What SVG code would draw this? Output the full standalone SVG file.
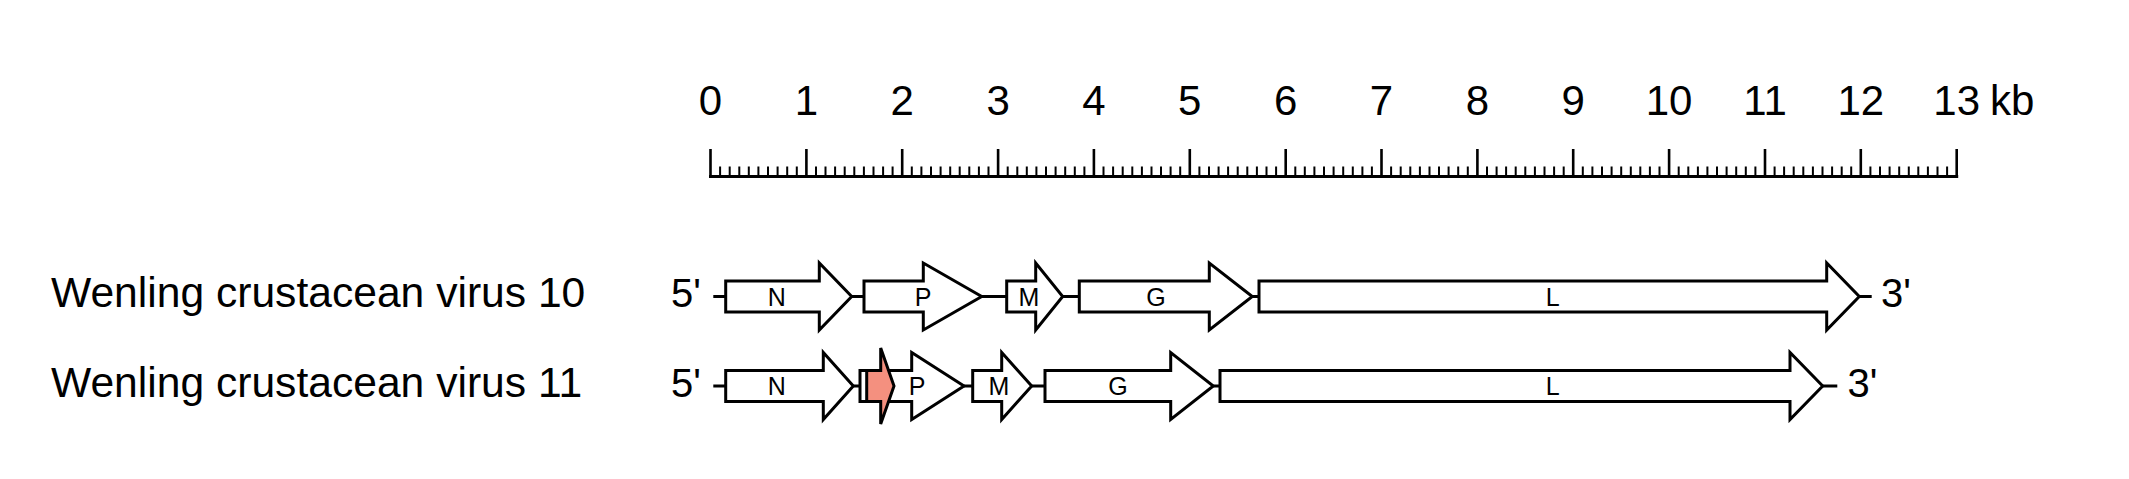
<svg xmlns="http://www.w3.org/2000/svg" width="2129" height="479" viewBox="0 0 2129 479">
<style>
.t{font-family:"Liberation Sans",Arial,sans-serif;fill:#000}
.tick{font-size:42px;text-anchor:middle}
.name{font-size:42.6px}
.end{font-size:40px}
.gl{font-size:25px;text-anchor:middle}
.gene{fill:#fff;stroke:#000;stroke-width:3;stroke-linejoin:miter}
.orf{fill:#F4907F;stroke:#000;stroke-width:3}
.con{stroke:#000;stroke-width:3;fill:none}
.ax{stroke:#000;fill:none}
</style>
<rect width="2129" height="479" fill="#fff"/>
<g id="ruler">
<g class="t tick">
<text x="710.5" y="115">0</text>
<text x="806.4" y="115">1</text>
<text x="902.2" y="115">2</text>
<text x="998.1" y="115">3</text>
<text x="1093.9" y="115">4</text>
<text x="1189.8" y="115">5</text>
<text x="1285.7" y="115">6</text>
<text x="1381.5" y="115">7</text>
<text x="1477.4" y="115">8</text>
<text x="1573.2" y="115">9</text>
<text x="1669.1" y="115">10</text>
<text x="1765" y="115">11</text>
<text x="1860.8" y="115">12</text>
<text x="1956.7" y="115">13</text>
</g>
<text class="t" x="1990" y="115" font-size="42">kb</text>
<path class="ax" stroke-width="3" d="M709 176.5H1958.2"/>
<path class="ax" stroke-width="2.6" d="M710.5 149v28M806.4 149v28M902.2 149v28M998.1 149v28M1093.9 149v28M1189.8 149v28M1285.7 149v28M1381.5 149v28M1477.4 149v28M1573.2 149v28M1669.1 149v28M1765 149v28M1860.8 149v28M1956.7 149v28"/>
<path class="ax" stroke-width="2" d="M720.1 166.5v10M729.7 166.5v10M739.3 166.5v10M748.8 166.5v10M758.4 166.5v10M768 166.5v10M777.6 166.5v10M787.2 166.5v10M796.8 166.5v10M816 166.5v10M825.5 166.5v10M835.1 166.5v10M844.7 166.5v10M854.3 166.5v10M863.9 166.5v10M873.5 166.5v10M883.1 166.5v10M892.6 166.5v10M911.8 166.5v10M921.4 166.5v10M931 166.5v10M940.6 166.5v10M950.2 166.5v10M959.7 166.5v10M969.3 166.5v10M978.9 166.5v10M988.5 166.5v10M1007.7 166.5v10M1017.3 166.5v10M1026.8 166.5v10M1036.4 166.5v10M1046 166.5v10M1055.6 166.5v10M1065.2 166.5v10M1074.8 166.5v10M1084.4 166.5v10M1103.5 166.5v10M1113.1 166.5v10M1122.7 166.5v10M1132.3 166.5v10M1141.9 166.5v10M1151.5 166.5v10M1161 166.5v10M1170.6 166.5v10M1180.2 166.5v10M1199.4 166.5v10M1209 166.5v10M1218.6 166.5v10M1228.1 166.5v10M1237.7 166.5v10M1247.3 166.5v10M1256.9 166.5v10M1266.5 166.5v10M1276.1 166.5v10M1295.3 166.5v10M1304.8 166.5v10M1314.4 166.5v10M1324 166.5v10M1333.6 166.5v10M1343.2 166.5v10M1352.8 166.5v10M1362.4 166.5v10M1371.9 166.5v10M1391.1 166.5v10M1400.7 166.5v10M1410.3 166.5v10M1419.9 166.5v10M1429.5 166.5v10M1439 166.5v10M1448.6 166.5v10M1458.2 166.5v10M1467.8 166.5v10M1487 166.5v10M1496.6 166.5v10M1506.1 166.5v10M1515.7 166.5v10M1525.3 166.5v10M1534.9 166.5v10M1544.5 166.5v10M1554.1 166.5v10M1563.7 166.5v10M1582.8 166.5v10M1592.4 166.5v10M1602 166.5v10M1611.6 166.5v10M1621.2 166.5v10M1630.8 166.5v10M1640.3 166.5v10M1649.9 166.5v10M1659.5 166.5v10M1678.7 166.5v10M1688.3 166.5v10M1697.9 166.5v10M1707.4 166.5v10M1717 166.5v10M1726.6 166.5v10M1736.2 166.5v10M1745.8 166.5v10M1755.4 166.5v10M1774.6 166.5v10M1784.1 166.5v10M1793.7 166.5v10M1803.3 166.5v10M1812.9 166.5v10M1822.5 166.5v10M1832.1 166.5v10M1841.7 166.5v10M1851.2 166.5v10M1870.4 166.5v10M1880 166.5v10M1889.6 166.5v10M1899.2 166.5v10M1908.8 166.5v10M1918.3 166.5v10M1927.9 166.5v10M1937.5 166.5v10M1947.1 166.5v10"/>
</g>
<g id="labels">
<text class="t name" x="51" y="306.7">Wenling crustacean virus 10</text>
<text class="t name" x="51" y="397">Wenling crustacean virus 11</text>
<text class="t end" x="671" y="306.7">5'</text>
<text class="t end" x="1881" y="306.7">3'</text>
<text class="t end" x="671" y="396.5">5'</text>
<text class="t end" x="1847.5" y="396.5">3'</text>
</g>
<g id="connectors">
<path class="con" d="M713.3 296.5H725.7M851.7 296.5H864M981.7 296.5H1006.7M1062.7 296.5H1079.3M1252.3 296.5H1259M1859.3 296.5H1871.7"/>
<path class="con" d="M713.3 386H725.7M853.3 386H860M964 386H972.7M1031.7 386H1045M1213.3 386H1220M1822.7 386H1837.3"/>
</g>
<g id="wcv10">
<g id="wcv10-N"><path class="gene" d="M725.7,281H819.3V263L851.7,296.5L819.3,330V312H725.7Z"/><text class="t gl" x="776.7" y="305.5">N</text></g>
<g id="wcv10-P"><path class="gene" d="M864,281H923.3V263L981.7,296.5L923.3,330V312H864Z"/><text class="t gl" x="923" y="305.5">P</text></g>
<g id="wcv10-M"><path class="gene" d="M1006.7,281H1035.7V263L1062.7,296.5L1035.7,330V312H1006.7Z"/><text class="t gl" x="1029" y="305.5">M</text></g>
<g id="wcv10-G"><path class="gene" d="M1079.3,281H1209.3V263L1252.3,296.5L1209.3,330V312H1079.3Z"/><text class="t gl" x="1156" y="305.5">G</text></g>
<g id="wcv10-L"><path class="gene" d="M1259,281H1826.7V263L1859.3,296.5L1826.7,330V312H1259Z"/><text class="t gl" x="1552.7" y="305.5">L</text></g>
</g>
<g id="wcv11">
<g id="wcv11-N"><path class="gene" d="M725.7,370.5H823.3V352.5L853.3,386L823.3,419.5V401.5H725.7Z"/><text class="t gl" x="776.7" y="395">N</text></g>
<g id="wcv11-P"><path class="gene" d="M860,370.5H911.7V352.5L964,386L911.7,419.5V401.5H860Z"/><text class="t gl" x="917" y="395">P</text></g>
<g id="wcv11-orf"><path class="orf" d="M866.7,370.5H880.7V348L894,386L880.7,424V401.5H866.7Z"/></g>
<g id="wcv11-M"><path class="gene" d="M972.7,370.5H1001.7V352.5L1031.7,386L1001.7,419.5V401.5H972.7Z"/><text class="t gl" x="999" y="395">M</text></g>
<g id="wcv11-G"><path class="gene" d="M1045,370.5H1170.7V352.5L1213.3,386L1170.7,419.5V401.5H1045Z"/><text class="t gl" x="1118" y="395">G</text></g>
<g id="wcv11-L"><path class="gene" d="M1220,370.5H1790V352.5L1822.7,386L1790,419.5V401.5H1220Z"/><text class="t gl" x="1552.7" y="395">L</text></g>
</g>
</svg>
